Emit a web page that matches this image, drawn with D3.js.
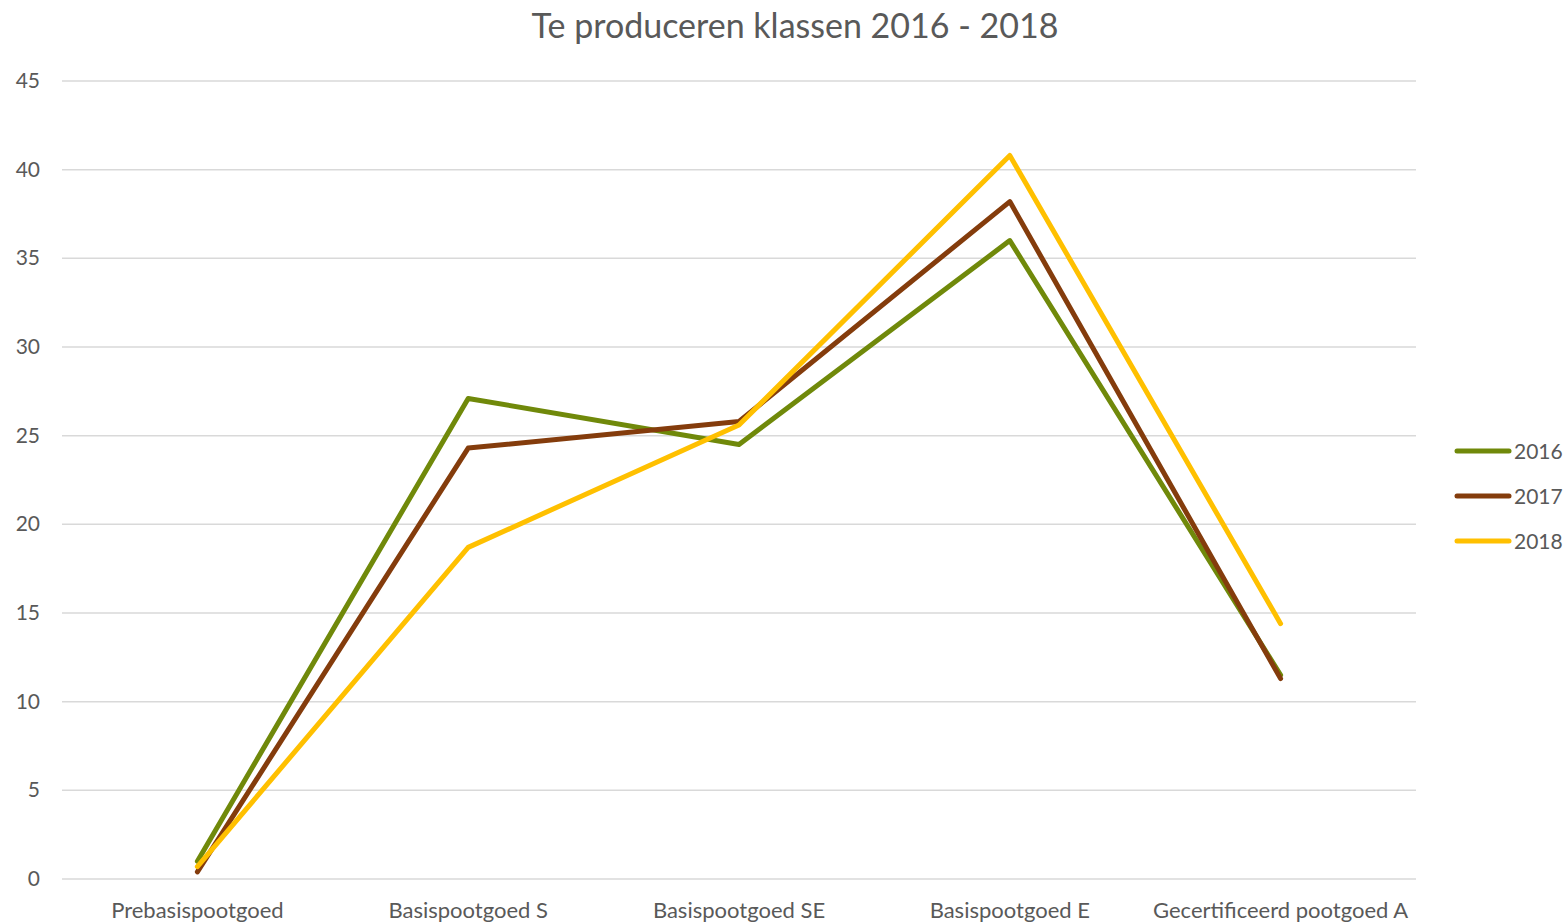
<!DOCTYPE html>
<html>
<head>
<meta charset="utf-8">
<script src="https://cdn.jsdelivr.net/npm/d3@7"></script>
<style>
  body { margin: 0; background: #fff; }
  text { font-family: Lato, "Open Sans", sans-serif; fill: #595959; }
</style>
</head>
<body>
<div class="container"></div>
<script>
// data
var categories = ["Prebasispootgoed", "Basispootgoed S", "Basispootgoed SE", "Basispootgoed E", "Gecertificeerd pootgoed A"];
var years = ["2016", "2017", "2018"];
var values2016 = [1.0, 27.1, 24.5, 36.0, 11.5];
var values2017 = [0.4, 24.3, 25.8, 38.2, 11.3];
var values2018 = [0.7, 18.7, 25.6, 40.8, 14.4];
var yTicks = [0, 5, 10, 15, 20, 25, 30, 35, 40, 45];
var colors = ["#70890a", "#843c0c", "#ffc000"];

var series = [values2016, values2017, values2018];

var width = 1566, height = 922;

var svg = d3.select(".container")
  .append("svg")
  .attr("width", width)
  .attr("height", height);

var x = d3.scaleBand().domain(categories).range([62, 1416]);
var y = d3.scaleLinear().domain([0, 45]).range([879, 81]);

// title
svg.append("text")
  .attr("x", 795)
  .attr("y", 38)
  .attr("text-anchor", "middle")
  .style("font-size", "34px")
  .text("Te produceren klassen 2016 - 2018");

// gridlines
svg.selectAll("line.grid")
  .data(yTicks)
  .enter()
  .append("line")
  .attr("class", "grid")
  .attr("x1", 62)
  .attr("x2", 1416)
  .attr("y1", function(d) { return y(d); })
  .attr("y2", function(d) { return y(d); })
  .style("stroke", "#d9d9d9")
  .style("stroke-width", "1.5px");

// y labels
svg.selectAll("text.ylab")
  .data(yTicks)
  .enter()
  .append("text")
  .attr("class", "ylab")
  .attr("x", 40)
  .attr("y", function(d) { return y(d) + 7; })
  .attr("text-anchor", "end")
  .style("font-size", "21px")
  .text(function(d) { return d; });

// x labels (cut at the bottom edge, as in the original)
svg.selectAll("text.xlab")
  .data(categories)
  .enter()
  .append("text")
  .attr("class", "xlab")
  .attr("x", function(d) { return x(d) + x.bandwidth() / 2; })
  .attr("y", 918)
  .attr("text-anchor", "middle")
  .style("font-size", "22px")
  .text(function(d) { return d; });

var line = d3.line()
  .x(function(d, i) { return x(categories[i]) + x.bandwidth() / 2; })
  .y(function(d) { return y(d); });

svg.selectAll("path.series")
  .data(series)
  .enter()
  .append("path")
  .attr("class", "series")
  .attr("d", line)
  .style("fill", "none")
  .style("stroke", function(d, i) { return colors[i]; })
  .style("stroke-width", "5px")
  .style("stroke-linejoin", "round")
  .style("stroke-linecap", "round");

// legend
var legend = svg.selectAll("g.legend")
  .data(years)
  .enter()
  .append("g")
  .attr("class", "legend")
  .attr("transform", function(d, i) { return "translate(0," + (451 + i * 45) + ")"; });

legend.append("line")
  .attr("x1", 1457)
  .attr("x2", 1509)
  .style("stroke", function(d, i) { return colors[i]; })
  .style("stroke-width", "5px")
  .style("stroke-linecap", "round");

legend.append("text")
  .attr("x", 1514)
  .attr("y", 8)
  .style("font-size", "21px")
  .text(function(d) { return d; });
</script>
</body>
</html>
